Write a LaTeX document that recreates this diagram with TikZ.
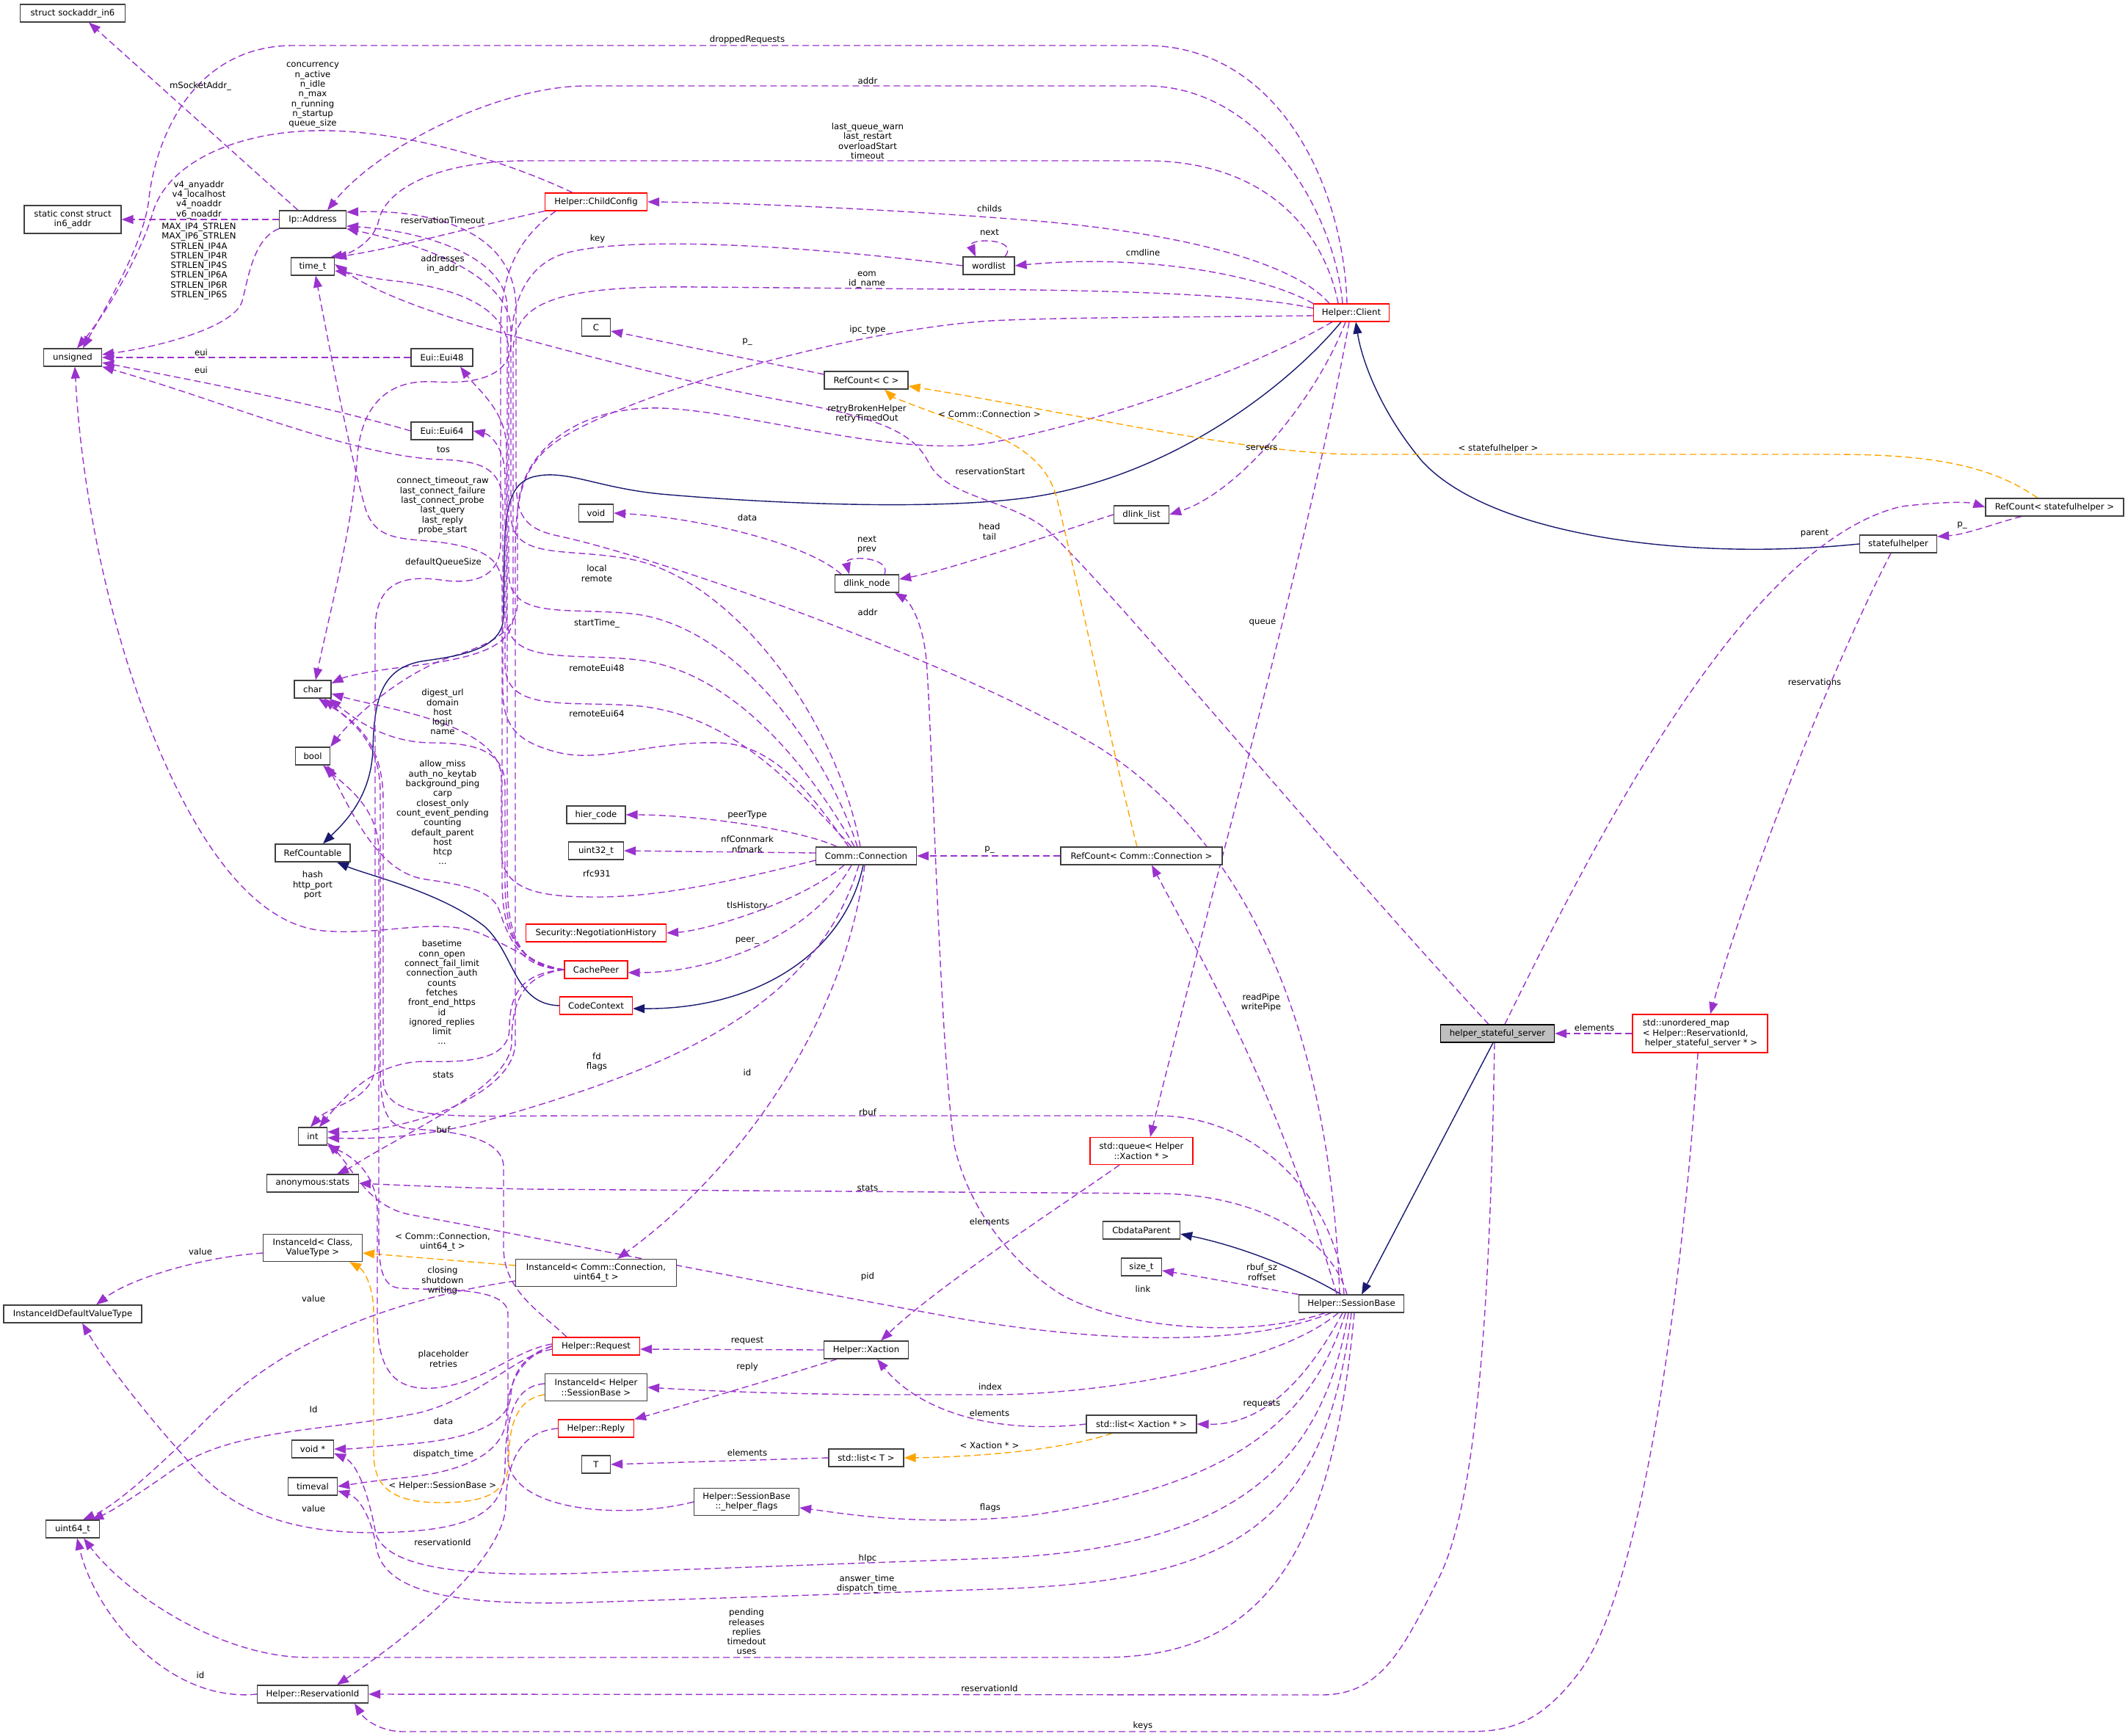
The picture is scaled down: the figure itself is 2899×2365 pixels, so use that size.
\documentclass[tikz,border=0pt]{standalone}
\usepackage{fontspec}
\setmainfont{DejaVu Sans}
\usetikzlibrary{arrows.meta}
\pgfdeclarelayer{bg}
\pgfsetlayers{bg,main}
\definecolor{depc}{HTML}{9A32CD}
\definecolor{navyc}{HTML}{191970}
\definecolor{tplc}{HTML}{FFA500}
\definecolor{bordc}{HTML}{404040}
\definecolor{hssfill}{HTML}{BFBFBF}
\begin{document}
\begin{tikzpicture}[x=1pt,y=-1pt,
  font=\fontsize{11.7}{13.3}\selectfont,
  box/.style={draw=bordc, line width=1.2pt, fill=white, minimum height=24pt, inner xsep=3pt, inner ysep=2pt, align=center},
  rbox/.style={box, draw=red},
  lbl/.style={align=center, inner sep=0pt},
  dep/.style={draw=depc, line width=1.4pt, dash pattern=on 9pt off 5pt, -{Triangle[length=16pt,width=12pt]}},
  inh/.style={draw=navyc, line width=1.4pt, -{Triangle[length=16pt,width=12pt]}},
  tpl/.style={draw=tplc, line width=1.4pt, dash pattern=on 9pt off 5pt, -{Triangle[length=16pt,width=12pt]}}]
\useasboundingbox (0,0) rectangle (2899,2365);

% ---------- nodes ----------
\node[box, minimum width=143pt] (sock) at (99,18) {struct sockaddr\_in6};
\node[box, minimum width=132pt, minimum height=38pt] (in6) at (99,299) {static const struct\\in6\_addr};
\node[box, minimum width=79pt] (unsig) at (99,487) {unsigned};
\node[box, minimum width=188pt] (iidv) at (99,1790) {InstanceIdDefaultValueType};
\node[box, minimum width=73pt] (u64) at (99,2083) {uint64\_t};
\node[box, minimum width=91pt] (ipaddr) at (426,299) {Ip::Address};
\node[box, minimum width=59pt] (timet) at (426,363) {time\_t};
\node[box, minimum width=50pt] (chr) at (426,939) {char};
\node[box, minimum width=47pt] (booln) at (426,1030) {bool};
\node[box, minimum width=102pt] (refcble) at (426,1162) {RefCountable};
\node[box, minimum width=39pt] (intn) at (426,1548) {int};
\node[box, minimum width=125pt] (anst) at (426,1612) {anonymous:stats};
\node[box, minimum width=135pt, minimum height=37pt] (iidcls) at (426,1700) {InstanceId< Class,\\ValueType >};
\node[box, minimum width=57pt] (voidp) at (426,1974) {void *};
\node[box, minimum width=67pt] (timeval) at (426,2025) {timeval};
\node[box, minimum width=151pt] (resid) at (426,2308) {Helper::ReservationId};
\node[box, minimum width=84pt] (eui48) at (602,487) {Eui::Eui48};
\node[box, minimum width=84pt] (eui64) at (602,587) {Eui::Eui64};
\node[rbox, minimum width=139pt] (childcfg) at (812,275) {Helper::ChildConfig};
\node[box, minimum width=39pt] (Cn) at (812,446) {C};
\node[box, minimum width=47pt] (voidn) at (812,699) {void};
\node[box, minimum width=80pt] (hier) at (812,1110) {hier\_code};
\node[box, minimum width=75pt] (u32) at (812,1159) {uint32\_t};
\node[rbox, minimum width=191pt] (neghist) at (812,1271) {Security::NegotiationHistory};
\node[rbox, minimum width=86pt] (cpeer) at (812,1321) {CachePeer};
\node[rbox, minimum width=99pt] (ctx) at (812,1370) {CodeContext};
\node[box, minimum width=219pt, minimum height=37pt] (iidcc) at (812,1734) {InstanceId< Comm::Connection,\\uint64\_t >};
\node[rbox, minimum width=119pt] (req) at (812,1834) {Helper::Request};
\node[box, minimum width=139pt, minimum height=37pt] (iidsb) at (812,1890) {InstanceId< Helper\\::SessionBase >};
\node[rbox, minimum width=103pt] (reply) at (812,1946) {Helper::Reply};
\node[box, minimum width=39pt] (Tn) at (812,1995) {T};
\node[box, minimum width=143pt, minimum height=37pt] (hflags) at (1017,2046) {Helper::SessionBase\\::\_helper\_flags};
\node[box, minimum width=70pt] (wordlist) at (1347,362) {wordlist};
\node[box, minimum width=114pt] (refC) at (1180,518) {RefCount< C >};
\node[box, minimum width=87pt] (dnode) at (1181,795) {dlink\_node};
\node[box, minimum width=137pt] (conn) at (1180,1166) {Comm::Connection};
\node[box, minimum width=115pt] (xact) at (1180,1839) {Helper::Xaction};
\node[box, minimum width=102pt] (listT) at (1180,1986) {std::list< T >};
\node[box, minimum width=75pt] (dlist) at (1555,701) {dlink\_list};
\node[box, minimum width=220pt] (refCC) at (1555,1166) {RefCount< Comm::Connection >};
\node[rbox, minimum width=140pt, minimum height=37pt] (queue) at (1555,1568) {std::queue< Helper\\::Xaction * >};
\node[box, minimum width=105pt] (cbdata) at (1555,1676) {CbdataParent};
\node[box, minimum width=55pt] (sizet) at (1555,1726) {size\_t};
\node[box, minimum width=150pt] (listX) at (1555,1940) {std::list< Xaction * >};
\node[rbox, minimum width=103pt] (client) at (1841,426) {Helper::Client};
\node[box, minimum width=143pt] (sb) at (1841,1776) {Helper::SessionBase};
\node[box, fill=hssfill, draw=black, minimum width=155pt] (hss) at (2040,1408) {helper\_stateful\_server};
\node[rbox, minimum width=184pt, minimum height=52pt, align=left] (umap) at (2316,1408) {std::unordered\_map\\< Helper::ReservationId,\\\hspace{3pt}helper\_stateful\_server * >};
\node[box, minimum width=105pt] (sh) at (2586,741) {statefulhelper};
\node[box, minimum width=188pt] (refSH) at (2799,691) {RefCount< statefulhelper >};

% ---------- labels ----------
\node[lbl] (l1) at (273,117) {mSocketAddr\_};
\node[lbl] (l2) at (426,130) {concurrency\\n\_active\\n\_idle\\n\_max\\n\_running\\n\_startup\\queue\_size};
\node[lbl] (l3) at (271,272) {v4\_anyaddr\\v4\_localhost\\v4\_noaddr\\v6\_noaddr};
\node[lbl] (l4) at (271,356) {MAX\_IP4\_STRLEN\\MAX\_IP6\_STRLEN\\STRLEN\_IP4A\\STRLEN\_IP4R\\STRLEN\_IP4S\\STRLEN\_IP6A\\STRLEN\_IP6R\\STRLEN\_IP6S};
\node[lbl] (l5) at (603,300) {reservationTimeout};
\node[lbl] (l6) at (603,360) {addresses\\in\_addr};
\node[lbl] (l7) at (274,480) {eui};
\node[lbl] (l8) at (274,504) {eui};
\node[lbl] (l9) at (1018,54) {droppedRequests};
\node[lbl] (l10) at (1182,110) {addr};
\node[lbl] (l11) at (1182,192) {last\_queue\_warn\\last\_restart\\overloadStart\\timeout};
\node[lbl] (l12) at (1348,284) {childs};
\node[lbl] (l13) at (1348,316) {next};
\node[lbl] (l14) at (814,325) {key};
\node[lbl] (l15) at (1181,381) {eom\\id\_name};
\node[lbl] (l16) at (1182,449) {ipc\_type};
\node[lbl] (l17) at (1018,466) {p\_};
\node[lbl] (l18) at (1181,564) {retryBrokenHelper\\retryTimedOut};
\node[lbl] (l19) at (1348,564) {< Comm::Connection >};
\node[lbl] (l20) at (604,612) {tos};
\node[lbl] (l21) at (1349,642) {reservationStart};
\node[lbl] (l22) at (603,689) {connect\_timeout\_raw\\last\_connect\_failure\\last\_connect\_probe\\last\_query\\last\_reply\\probe\_start};
\node[lbl] (l23) at (1018,705) {data};
\node[lbl] (l24) at (1348,724) {head\\tail};
\node[lbl] (l25) at (1181,742) {next\\prev};
\node[lbl] (l26) at (604,766) {defaultQueueSize};
\node[lbl] (l27) at (813,781) {local\\remote};
\node[lbl] (l28) at (1182,834) {addr};
\node[lbl] (l29) at (813,849) {startTime\_};
\node[lbl] (l30) at (813,910) {remoteEui48};
\node[lbl] (l31) at (813,972) {remoteEui64};
\node[lbl] (l32) at (603,970) {digest\_url\\domain\\host\\login\\name};
\node[lbl] (l33) at (603,1107) {allow\_miss\\auth\_no\_keytab\\background\_ping\\carp\\closest\_only\\count\_event\_pending\\counting\\default\_parent\\host\\htcp\\...};
\node[lbl] (l34) at (1018,1110) {peerType};
\node[lbl] (l35) at (1018,1150) {nfConnmark\\nfmark};
\node[lbl] (l36) at (1348,1158) {p\_};
\node[lbl] (l37) at (813,1190) {rfc931};
\node[lbl] (l38) at (426,1206) {hash\\http\_port\\port};
\node[lbl] (l39) at (1018,1234) {tlsHistory};
\node[lbl] (l40) at (1018,1282) {peer\_};
\node[lbl] (l41) at (602,1352) {basetime\\conn\_open\\connect\_fail\_limit\\connection\_auth\\counts\\fetches\\front\_end\_https\\id\\ignored\_replies\\limit\\...};
\node[lbl] (l42) at (813,1447) {fd\\flags};
\node[lbl] (l43) at (1018,1461) {id};
\node[lbl] (l44) at (604,1464) {stats};
\node[lbl] (l45) at (1182,1515) {rbuf};
\node[lbl] (l46) at (604,1539) {buf};
\node[lbl] (l47) at (1182,1618) {stats};
\node[lbl] (l48) at (1348,1664) {elements};
\node[lbl] (l49) at (603,1692) {< Comm::Connection,\\uint64\_t >};
\node[lbl] (l50) at (273,1705) {value};
\node[lbl] (l51) at (1182,1739) {pid};
\node[lbl] (l52) at (603,1745) {closing\\shutdown\\writing};
\node[lbl] (l53) at (427,1769) {value};
\node[lbl] (l54) at (1018,1827) {request};
\node[lbl] (l55) at (604,1851) {placeholder\\retries};
\node[lbl] (l56) at (1018,1862) {reply};
\node[lbl] (l57) at (1349,1889) {index};
\node[lbl] (l58) at (427,1920) {Id};
\node[lbl] (l59) at (1348,1925) {elements};
\node[lbl] (l60) at (604,1936) {data};
\node[lbl] (l61) at (1348,1969) {< Xaction * >};
\node[lbl] (l62) at (1018,1979) {elements};
\node[lbl] (l63) at (604,1981) {dispatch\_time};
\node[lbl] (l64) at (603,2024) {< Helper::SessionBase >};
\node[lbl] (l65) at (1349,2054) {flags};
\node[lbl] (l66) at (427,2055) {value};
\node[lbl] (l67) at (603,2101) {reservationId};
\node[lbl] (l68) at (1182,2123) {hIpc};
\node[lbl] (l69) at (1181,2158) {answer\_time\\dispatch\_time};
\node[lbl] (l70) at (1017,2223) {pending\\releases\\replies\\timedout\\uses};
\node[lbl] (l71) at (273,2282) {id};
\node[lbl] (l72) at (1348,2300) {reservationId};
\node[lbl] (l73) at (1557,2351) {keys};
\node[lbl] (l74) at (1557,344) {cmdline};
\node[lbl] (l75) at (1719,610) {servers};
\node[lbl] (l76) at (2041,611) {< statefulhelper >};
\node[lbl] (l77) at (1720,848) {queue};
\node[lbl] (l78) at (1718,1366) {readPipe\\writePipe};
\node[lbl] (l79) at (1719,1733) {rbuf\_sz\\roffset};
\node[lbl] (l80) at (1557,1756) {link};
\node[lbl] (l81) at (1719,1913) {requests};
\node[lbl] (l82) at (2472,727) {parent};
\node[lbl] (l83) at (2673,716) {p\_};
\node[lbl] (l84) at (2472,929) {reservations};
\node[lbl] (l85) at (2172,1400) {elements};

% ---------- edges ----------
\begin{pgfonlayer}{bg}
% Helper::Client
\draw[dep] ([xshift=-6pt]client.north) .. controls (1830,250) and (1740,62) .. (1560,62) -- (400,62) .. controls (262,62) and (212,190) .. (203,270) .. controls (196,335) and (140,425) .. ([xshift=14pt]unsig.north);
\draw[dep] ([xshift=-12pt]client.north) .. controls (1818,290) and (1720,117) .. (1560,117) -- (800,117) .. controls (680,117) and (515,200) .. ([xshift=20pt]ipaddr.north);
\draw[dep] ([xshift=-18pt]client.north) .. controls (1805,320) and (1730,219) .. (1560,219) -- (720,219) .. controls (590,219) and (525,260) .. (516,300) .. controls (510,328) and (480,345) .. ([xshift=-6pt]timet.north east);
\draw[dep] ([xshift=-30pt]client.north) .. controls (1765,360) and (1620,318) .. (1400,300) .. controls (1200,284) and (1000,276) .. (childcfg.east);
\draw[dep] (client.north west) .. controls (1720,375) and (1560,345) .. (wordlist.east);
\draw[dep] ([yshift=6pt]client.west) .. controls (1700,400) and (1500,395) .. (1300,394) -- (950,391) .. controls (760,389) and (699,410) .. (699,480) -- (699,840) .. controls (699,890) and (620,900) .. (540,910) .. controls (500,915) and (470,922) .. ([yshift=8pt]chr.east);
\draw[dep] ([yshift=-4pt]client.west) .. controls (1650,432) and (1450,432) .. (1350,437) .. controls (1150,450) and (850,540) .. (760,600) .. controls (706,636) and (702,690) .. (702,760) -- (702,1420) .. controls (702,1490) and (560,1542) .. ([yshift=6pt]intn.east);
\draw[dep] ([xshift=-26pt]client.south) .. controls (1700,505) and (1500,575) .. (1350,603) .. controls (1220,625) and (1020,560) .. (900,556) .. controls (780,553) and (706,620) .. (705,700) -- (705,820) .. controls (705,872) and (640,885) .. (600,900) .. controls (530,930) and (475,985) .. (booln.north east);
\draw[dep] ([xshift=-8pt]client.south) .. controls (1795,540) and (1690,670) .. (dlist.east);
\draw[dep] ([xshift=-3pt]client.south) .. controls (1780,760) and (1640,1250) .. ([xshift=12pt]queue.north);
\draw[inh] ([xshift=-14pt]client.south) .. controls (1760,520) and (1600,650) .. (1400,678) .. controls (1250,698) and (1000,682) .. (900,673) .. controls (810,664) and (770,638) .. (725,650) .. controls (692,660) and (688,700) .. (687,760) -- (686,840) .. controls (685,880) and (640,892) .. (580,900) .. controls (520,908) and (510,950) .. (508,1020) .. controls (506,1085) and (470,1120) .. ([xshift=14pt]refcble.north);
% statefulhelper side
\draw[inh] (sh.west) .. controls (2300,765) and (2030,730) .. (1937,628) .. controls (1880,560) and (1855,490) .. ([xshift=6pt]client.south);
\draw[dep] ([xshift=-10pt]sh.south) .. controls (2500,900) and (2380,1200) .. ([xshift=14pt]umap.north);
\draw[dep] ([xshift=-45pt]refSH.south) .. controls (2720,712) and (2680,728) .. ([yshift=10pt]sh.east);
\draw[tpl] ([xshift=-23pt]refSH.north) .. controls (2720,640) and (2650,619) .. (2500,619) -- (1850,619) .. controls (1700,619) and (1450,560) .. ([yshift=-8pt]refC.east);
\draw[dep] ([xshift=10pt]hss.north) .. controls (2180,1130) and (2380,740) .. (2590,690) .. controls (2640,684) and (2680,683) .. (refSH.west);
\draw[inh] ([xshift=-6pt]hss.south) -- ([xshift=14pt]sb.north);
\draw[dep] ([xshift=-12pt]hss.north) .. controls (1800,1150) and (1530,820) .. (1430,725) .. controls (1380,680) and (1290,680) .. (1265,630) .. controls (1245,590) and (1200,570) .. (1080,548) .. controls (950,525) and (780,480) .. (700,458) .. controls (620,436) and (520,405) .. ([yshift=3pt]timet.east);
\draw[dep] ([xshift=-4pt]hss.south) .. controls (2030,1800) and (2010,2050) .. (1960,2150) .. controls (1910,2250) and (1880,2309) .. (1800,2309) -- (resid.east);
\draw[dep] (umap.west) -- (hss.east);
\draw[dep] ([xshift=-3pt]umap.south) .. controls (2300,1650) and (2250,2150) .. (2150,2280) .. controls (2100,2345) and (2060,2359) .. (2000,2359) -- (550,2359) .. controls (515,2359) and (495,2340) .. ([xshift=57pt]resid.south);
% RefCounts
\draw[dep] (refCC.west) -- (conn.east);
\draw[tpl] ([xshift=-6pt]refCC.north) .. controls (1510,1000) and (1470,800) .. (1440,680) .. controls (1425,620) and (1370,595) .. (1300,572) .. controls (1250,555) and (1215,540) .. ([xshift=25pt]refC.south);
\draw[dep] ([yshift=8pt]refC.west) -- ([yshift=-5pt]Cn.east);
% dlink
\draw[dep] ([xshift=-35pt]dnode.north) .. controls (1100,740) and (950,705) .. (voidn.east);
\draw[dep] ([xshift=24pt]dnode.north) .. controls (1215,758) and (1150,756) .. ([xshift=-24pt]dnode.north);
\draw[dep] (dlist.west) .. controls (1450,722) and (1300,775) .. ([yshift=6pt]dnode.east);
% Comm::Connection
\draw[dep] ([xshift=-8pt]conn.north) .. controls (1140,980) and (1000,790) .. (860,762) .. controls (770,745) and (696,765) .. (696,700) -- (696,450) .. controls (696,370) and (560,330) .. (ipaddr.south east);
\draw[dep] ([xshift=-12pt]conn.north) .. controls (1125,1020) and (1000,850) .. (860,836) .. controls (770,827) and (693,845) .. (693,780) -- (693,480) .. controls (693,410) and (600,390) .. (540,383) .. controls (500,379) and (480,372) .. ([yshift=-6pt]timet.east);
\draw[dep] ([xshift=-16pt]conn.north) .. controls (1105,1050) and (1000,910) .. (860,898) .. controls (770,890) and (690,905) .. (690,840) -- (690,610) .. controls (690,560) and (650,530) .. ([xshift=25pt]eui48.south);
\draw[dep] ([xshift=-20pt]conn.north) .. controls (1090,1080) and (1000,970) .. (860,961) .. controls (770,955) and (688,970) .. (688,905) -- (688,650) .. controls (688,610) and (668,592) .. (eui64.east);
\draw[dep] ([xshift=-24pt]conn.north) .. controls (1110,1090) and (1060,1015) .. (980,1012) .. controls (890,1009) and (820,1040) .. (760,1025) .. controls (705,1011) and (685,990) .. (685,940) -- (685,690) .. controls (685,640) and (660,628) .. (600,626) .. controls (480,622) and (300,545) .. (unsig.south east);
\draw[dep] ([xshift=-40pt]conn.north) .. controls (1090,1130) and (950,1110) .. (hier.east);
\draw[dep] ([yshift=4pt]conn.west) -- (u32.east);
\draw[dep] ([yshift=-6pt]conn.west) .. controls (1000,1200) and (900,1222) .. (813,1222) .. controls (740,1222) and (683,1215) .. (683,1160) -- (683,1060) .. controls (683,985) and (520,965) .. ([yshift=-6pt]chr.east);
\draw[dep] ([xshift=-30pt]conn.south) .. controls (1090,1230) and (960,1268) .. (neghist.east);
\draw[dep] ([xshift=-20pt]conn.south) .. controls (1110,1270) and (980,1325) .. ([yshift=-4pt]cpeer.east);
\draw[inh] ([xshift=-4pt]conn.south) .. controls (1150,1300) and (1030,1375) .. ([yshift=-4pt]ctx.east);
\draw[dep] ([xshift=-10pt]conn.south) .. controls (1110,1380) and (900,1460) .. (650,1530) .. controls (570,1550) and (500,1552) .. ([yshift=-2pt]intn.east);
\draw[dep] ([xshift=-2pt]conn.south) .. controls (1150,1400) and (1000,1600) .. ([xshift=29pt]iidcc.north);
\draw[inh] (ctx.west) .. controls (700,1368) and (702,1300) .. (660,1262) .. controls (600,1215) and (500,1192) .. ([xshift=33pt]refcble.south);
% CachePeer
\draw[dep] (cpeer.west) .. controls (718,1318) and (691,1290) .. (691,1200) -- (691,420) .. controls (691,350) and (580,315) .. ([yshift=-9pt]ipaddr.east);
\draw[dep] (cpeer.west) .. controls (714,1312) and (684,1285) .. (684,1200) -- (684,800) .. controls (684,762) and (660,750) .. (620,742) .. controls (560,730) and (512,745) .. (497,690) .. controls (475,610) and (450,480) .. ([xshift=4pt]timet.south);
\draw[dep] (cpeer.west) .. controls (716,1315) and (688,1290) .. (688,1200) -- (688,1070) .. controls (688,1020) and (640,1012) .. (590,1012) .. controls (530,1012) and (490,985) .. ([xshift=-3pt]chr.south east);
\draw[dep] (cpeer.west) .. controls (720,1318) and (700,1300) .. (680,1240) .. controls (670,1210) and (620,1204) .. (580,1198) .. controls (520,1190) and (485,1120) .. ([xshift=-4pt]booln.south east);
\draw[dep] (cpeer.west) .. controls (730,1316) and (700,1290) .. (650,1270) .. controls (590,1250) and (520,1275) .. (440,1268) .. controls (330,1258) and (250,1110) .. (200,980) .. controls (140,820) and (110,650) .. ([xshift=3pt]unsig.south);
\draw[dep] (cpeer.west) .. controls (715,1325) and (694,1350) .. (694,1400) .. controls (694,1440) and (650,1448) .. (580,1446) .. controls (520,1446) and (480,1480) .. ([xshift=9pt]intn.north);
\draw[dep] (cpeer.west) .. controls (712,1328) and (697,1365) .. (697,1420) .. controls (697,1470) and (600,1520) .. (520,1565) .. controls (490,1582) and (475,1592) .. ([xshift=33pt]anst.north);
% ChildConfig
\draw[dep] ([xshift=-32pt]childcfg.north) .. controls (680,215) and (540,176) .. (430,178) .. controls (320,180) and (228,222) .. (208,290) .. controls (195,338) and (150,420) .. ([xshift=6pt]unsig.north);
\draw[dep] (childcfg.south west) .. controls (660,305) and (540,338) .. (timet.north east);
\draw[dep] ([xshift=-55pt]childcfg.south) .. controls (715,318) and (682,360) .. (682,450) -- (682,740) .. controls (682,790) and (640,796) .. (600,790) .. controls (540,782) and (511,800) .. (511,860) -- (511,1450) .. controls (511,1500) and (450,1505) .. ([xshift=-3pt]intn.north);
% wordlist
\draw[dep] ([xshift=22pt]wordlist.north) .. controls (1390,324) and (1318,324) .. ([xshift=-18pt]wordlist.north);
\draw[dep] (wordlist.west) .. controls (1100,335) and (860,320) .. (770,345) .. controls (712,362) and (697,420) .. (696,470) .. controls (694,512) and (650,524) .. (590,520) .. controls (530,517) and (493,550) .. (487,620) .. controls (480,720) and (450,830) .. ([xshift=4pt]chr.north);
% Ip::Address, Eui
\draw[dep] ([xshift=-20pt]ipaddr.north) -- ([xshift=22pt]sock.south);
\draw[dep] (ipaddr.west) -- (in6.east);
\draw[dep] (ipaddr.south west) .. controls (345,325) and (338,380) .. (330,410) .. controls (320,445) and (220,472) .. ([yshift=4pt]unsig.east);
\draw[dep] (eui48.west) -- (unsig.east);
\draw[dep] (eui64.west) .. controls (450,555) and (300,525) .. ([yshift=-7pt]unsig.east);
% InstanceIds
\draw[tpl] ([yshift=10pt]iidcc.west) -- ([yshift=-7pt]iidcls.east);
\draw[tpl] ([yshift=-10pt]iidsb.west) .. controls (705,1905) and (693,1940) .. (693,1990) .. controls (693,2035) and (660,2047) .. (600,2047) .. controls (540,2047) and (509,2030) .. (509,1980) -- (509,1790) .. controls (509,1750) and (495,1730) .. ([xshift=50pt]iidcls.south);
\draw[dep] ([yshift=-7pt]iidcls.west) .. controls (280,1712) and (180,1740) .. ([xshift=32pt]iidv.north);
\draw[dep] ([yshift=-11pt]iidcc.west) .. controls (600,1760) and (420,1800) .. (300,1915) .. controls (220,1995) and (160,2050) .. ([xshift=14pt]u64.north);
\draw[dep] ([yshift=5pt]iidsb.west) .. controls (700,1888) and (689,1930) .. (688,2000) .. controls (687,2060) and (640,2080) .. (560,2086) .. controls (450,2094) and (340,2080) .. (270,2005) .. controls (200,1930) and (140,1850) .. ([xshift=13pt]iidv.south);
% Helper::Request / Reply
\draw[dep] ([yshift=-4pt]req.west) .. controls (700,1848) and (660,1900) .. (574,1924) .. controls (450,1950) and (320,1945) .. (239,2000) .. controls (190,2035) and (150,2060) .. ([xshift=26pt]u64.north);
\draw[dep] (req.west) .. controls (715,1845) and (698,1870) .. (696,1900) .. controls (694,1940) and (640,1960) .. (560,1967) .. controls (510,1971) and (480,1974) .. (voidp.east);
\draw[dep] (req.west) .. controls (712,1848) and (692,1880) .. (690,1930) .. controls (688,1985) and (620,2005) .. (560,2012) .. controls (510,2017) and (480,2022) .. (timeval.east);
\draw[dep] ([yshift=3pt]req.west) .. controls (700,1840) and (660,1882) .. (600,1890) .. controls (540,1898) and (515,1870) .. (514,1800) -- (514,1650) .. controls (514,1600) and (480,1575) .. (intn.south east);
\draw[dep] ([xshift=-40pt]req.north) .. controls (740,1790) and (686,1760) .. (686,1700) -- (686,1590) .. controls (686,1545) and (600,1540) .. (560,1538) .. controls (525,1536) and (518,1510) .. (518,1450) -- (518,1080) .. controls (518,1010) and (480,985) .. ([xshift=-10pt]chr.south east);
\draw[dep] (reply.west) .. controls (710,1950) and (690,1990) .. (689,2050) .. controls (688,2110) and (600,2200) .. ([xshift=33pt]resid.north);
% Xaction
\draw[dep] (xact.west) -- ([yshift=-4pt]req.east);
\draw[dep] ([xshift=-40pt]xact.south) .. controls (1050,1880) and (930,1915) .. (reply.north east);
\draw[dep] (listX.west) .. controls (1350,1955) and (1250,1920) .. ([xshift=15pt]xact.south);
\draw[tpl] ([xshift=-40pt]listX.south) .. controls (1450,1975) and (1330,1985) .. (listT.east);
\draw[dep] (listT.west) -- (Tn.east);
\draw[dep] ([xshift=-30pt]queue.south) .. controls (1450,1640) and (1280,1750) .. ([xshift=20pt]xact.north);
% helper flags
\draw[dep] (hflags.west) .. controls (850,2070) and (700,2060) .. (692,1990) -- (692,1790) .. controls (692,1752) and (600,1758) .. (545,1755) .. controls (518,1753) and (516,1720) .. (516,1680) -- (516,1160) .. controls (516,1100) and (470,1070) .. ([xshift=-10pt]booln.south east);
% ReservationId
\draw[dep] (resid.west) .. controls (230,2320) and (130,2200) .. ([xshift=6pt]u64.south);
% Helper::SessionBase
\draw[inh] ([xshift=-14pt]sb.north) .. controls (1780,1735) and (1700,1700) .. ([yshift=-5pt]cbdata.east);
\draw[dep] (sb.north west) .. controls (1720,1755) and (1640,1740) .. ([yshift=-5pt]sizet.east);
\draw[dep] ([xshift=-36pt]sb.south) .. controls (1700,1825) and (1520,1810) .. (1440,1760) .. controls (1380,1720) and (1320,1650) .. (1300,1560) .. controls (1280,1420) and (1270,1000) .. (1262,900) .. controls (1258,850) and (1240,820) .. ([xshift=38pt]dnode.south);
\draw[dep] ([xshift=-20pt]sb.north) .. controls (1745,1500) and (1650,1330) .. ([xshift=14pt]refCC.south);
\draw[dep] ([xshift=-16pt]sb.north) .. controls (1812,1400) and (1700,1150) .. (1500,1020) .. controls (1300,900) and (900,760) .. (760,730) .. controls (712,720) and (703,700) .. (703,650) -- (703,420) .. controls (703,320) and (600,285) .. ([yshift=10pt]ipaddr.east);
\draw[dep] ([xshift=-10pt]sb.north) .. controls (1822,1640) and (1720,1522) .. (1580,1520) -- (780,1520) .. controls (620,1520) and (522,1530) .. (522,1470) -- (522,1090) .. controls (522,1000) and (470,975) .. ([xshift=8pt]chr.south);
\draw[dep] ([xshift=-6pt]sb.north) .. controls (1815,1690) and (1720,1628) .. (1580,1626) -- (720,1620) .. controls (620,1618) and (530,1614) .. (anst.east);
\draw[dep] ([xshift=-28pt]sb.south) .. controls (1700,1835) and (1500,1830) .. (1300,1795) .. controls (1000,1740) and (700,1680) .. (560,1655) .. controls (500,1644) and (480,1590) .. ([yshift=-9pt]intn.east);
\draw[dep] ([xshift=-18pt]sb.south) .. controls (1740,1860) and (1500,1900) .. (1350,1900) -- (1200,1900) .. controls (1050,1899) and (950,1894) .. (iidsb.east);
\draw[dep] ([xshift=-12pt]sb.south) .. controls (1780,1880) and (1720,1942) .. (listX.east);
\draw[dep] ([xshift=-8pt]sb.south) .. controls (1780,1960) and (1640,2030) .. (1400,2065) .. controls (1250,2080) and (1150,2062) .. ([yshift=-8pt]hflags.east);
\draw[dep] ([xshift=-4pt]sb.south) .. controls (1800,2000) and (1680,2110) .. (1350,2123) -- (800,2143) .. controls (650,2148) and (530,2140) .. (512,2090) .. controls (505,2050) and (490,1995) .. ([yshift=-6pt]voidp.east);
\draw[dep] (sb.south) .. controls (1805,2080) and (1680,2155) .. (1350,2165) -- (800,2183) .. controls (620,2188) and (525,2170) .. (513,2110) .. controls (507,2070) and (490,2040) .. ([yshift=-6pt]timeval.east);
\draw[dep] ([xshift=4pt]sb.south) .. controls (1812,2150) and (1700,2258) .. (1500,2258) -- (420,2258) .. controls (300,2258) and (170,2170) .. ([xshift=15pt]u64.south);
\end{pgfonlayer}
\end{tikzpicture}
\end{document}
